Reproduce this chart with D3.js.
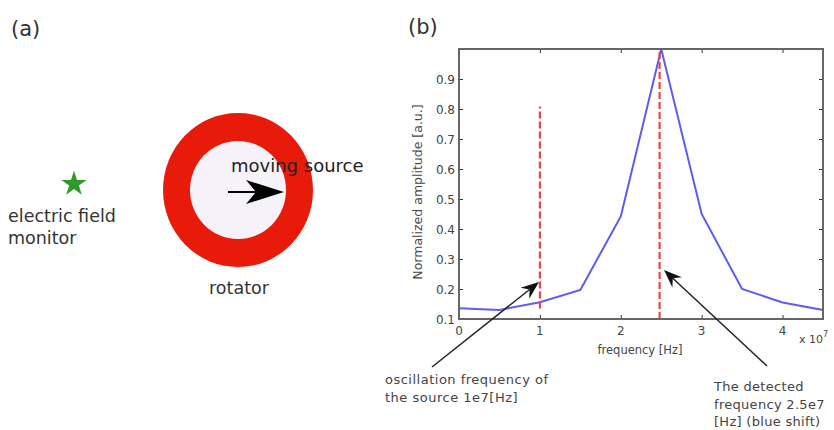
<!DOCTYPE html>
<html>
<head>
<meta charset="utf-8">
<script src="https://cdn.jsdelivr.net/npm/d3@7"></script>
<style>
  body { margin: 0; background: #fff; }
  svg text { font-family: "DejaVu Sans", Verdana, sans-serif; }
  .tick-label, .axis-label, .note { fill: #444; }
</style>
</head>
<body>
<svg id="fig" width="834" height="430"></svg>
<script>
// spectrum data (frequency in Hz, normalized amplitude)
const freqs = [0, 0.5e7, 1e7, 1.5e7, 2e7, 2.5e7, 3e7, 3.5e7, 4e7, 4.5e7];
const amps = [0.136, 0.13, 0.156, 0.197, 0.442, 1.0, 0.45, 0.2, 0.155, 0.13];

const xTicks = [0, 1e7, 2e7, 3e7, 4e7];
const xTickLabels = ['0', '1', '2', '3', '4'];
const yTicks = [0.1, 0.2, 0.3, 0.4, 0.5, 0.6, 0.7, 0.8, 0.9];

// red dashed markers: [frequency, bottom amp, top amp]
const markers = [[1e7, 0.135, 0.808], [2.48e7, 0.1, 0.995]];

const svg = d3.select('#fig');

// ---------- panel (a) : schematic ----------
svg.append('text').attr('x', 11).attr('y', 36)
  .attr('font-size', 21).attr('fill', '#333').text('(a)');

// star = electric field monitor
svg.append('path')
  .attr('d', d3.symbol().type(d3.symbolStar).size(200)())
  .attr('transform', 'translate(74,184)')
  .attr('fill', '#2f9a2a');

svg.append('text').attr('x', 8).attr('y', 222)
  .attr('font-size', 17.5).attr('fill', '#333').text('electric field');
svg.append('text').attr('x', 8).attr('y', 244)
  .attr('font-size', 17.5).attr('fill', '#333').text('monitor');

// rotator ring
const ring = svg.append('g').attr('transform', 'translate(238,190)');
ring.append('ellipse').attr('rx', 75).attr('ry', 77).attr('fill', '#e81a0a');
ring.append('ellipse').attr('rx', 48).attr('ry', 49).attr('fill', '#f6f2fa');

svg.append('text').attr('x', 231).attr('y', 172)
  .attr('font-size', 18).attr('fill', '#222').text('moving source');

// source arrow
svg.append('line').attr('x1', 228).attr('y1', 192).attr('x2', 262).attr('y2', 192)
  .attr('stroke', '#000').attr('stroke-width', 2);
svg.append('path').attr('d', 'M284,192 L246,180 L256,192 L246,204 Z').attr('fill', '#000');

svg.append('text').attr('x', 239).attr('y', 294).attr('text-anchor', 'middle')
  .attr('font-size', 17.5).attr('fill', '#333').text('rotator');

// ---------- panel (b) : spectrum ----------
svg.append('text').attr('x', 408).attr('y', 34)
  .attr('font-size', 21).attr('fill', '#333').text('(b)');

const margin = { left: 459, top: 49, right: 823, bottom: 319 };

const x = d3.scaleLinear().domain([0, 4.5e7]).range([margin.left, margin.right]);
const y = d3.scaleLinear().domain([0.1, 1.0]).range([margin.bottom, margin.top]);

const g = svg.append('g');

// inward ticks on all four sides (matlab style)
const tickLen = 4;
const tickColor = '#333';
g.append('g').attr('transform', `translate(0,${margin.bottom})`)
  .call(d3.axisTop(x).tickValues(xTicks).tickSize(tickLen).tickFormat(''))
  .call(a => a.select('.domain').remove())
  .selectAll('line').attr('stroke', tickColor);
g.append('g').attr('transform', `translate(0,${margin.top})`)
  .call(d3.axisBottom(x).tickValues(xTicks).tickSize(tickLen).tickFormat(''))
  .call(a => a.select('.domain').remove())
  .selectAll('line').attr('stroke', tickColor);
g.append('g').attr('transform', `translate(${margin.left},0)`)
  .call(d3.axisRight(y).tickValues(yTicks).tickSize(tickLen).tickFormat(''))
  .call(a => a.select('.domain').remove())
  .selectAll('line').attr('stroke', tickColor);
g.append('g').attr('transform', `translate(${margin.right},0)`)
  .call(d3.axisLeft(y).tickValues(yTicks).tickSize(tickLen).tickFormat(''))
  .call(a => a.select('.domain').remove())
  .selectAll('line').attr('stroke', tickColor);

// tick labels
g.selectAll('.xl').data(xTicks).enter().append('text')
  .attr('class', 'tick-label')
  .attr('x', d => x(d)).attr('y', margin.bottom + 16)
  .attr('text-anchor', 'middle').attr('font-size', 12)
  .text((d, i) => xTickLabels[i]);
g.selectAll('.yl').data(yTicks).enter().append('text')
  .attr('class', 'tick-label')
  .attr('x', margin.left - 4).attr('y', d => y(d) + 4.5)
  .attr('text-anchor', 'end').attr('font-size', 12)
  .text(d => d3.format('.1f')(d));

// exponent
const ex = g.append('text').attr('class', 'tick-label')
  .attr('x', 799).attr('y', 343).attr('font-size', 11);
ex.append('tspan').text('x 10');
ex.append('tspan').attr('dy', -6).attr('font-size', 8).text('7');

// axis labels
g.append('text').attr('class', 'axis-label')
  .attr('x', 640).attr('y', 354).attr('text-anchor', 'middle')
  .attr('font-size', 11.5).text('frequency [Hz]');
g.append('text').attr('class', 'axis-label')
  .attr('transform', `translate(422,${(margin.top + margin.bottom) / 2 + 8}) rotate(-90)`)
  .attr('text-anchor', 'middle').attr('font-size', 12.5)
  .text('Normalized amplitude [a.u.]');

// blue spectrum line
const pts = freqs.map((f, i) => [f, amps[i]]);
g.append('path').datum(pts)
  .attr('d', d3.line().x(d => x(d[0])).y(d => y(d[1])))
  .attr('fill', 'none').attr('stroke', '#5c5cf0').attr('stroke-width', 2);

// red dashed markers
g.selectAll('.marker').data(markers).enter().append('line')
  .attr('x1', d => x(d[0])).attr('x2', d => x(d[0]))
  .attr('y1', d => y(d[1])).attr('y2', d => y(d[2]))
  .attr('stroke', '#e84545').attr('stroke-width', 2.2)
  .attr('stroke-dasharray', '7,3');

// frame
g.append('rect')
  .attr('x', margin.left).attr('y', margin.top)
  .attr('width', margin.right - margin.left).attr('height', margin.bottom - margin.top)
  .attr('fill', 'none').attr('stroke', '#666').attr('stroke-width', 2);

// annotation arrows
function annArrow(x0, y0, x1, y1) {
  const ang = Math.atan2(y1 - y0, x1 - x0);
  const L = 18, W = 7, back = 12;
  const ux = Math.cos(ang), uy = Math.sin(ang);
  const bx = x1 - ux * L, by = y1 - uy * L;
  const nx = -uy, ny = ux;
  const mx = x1 - ux * back, my = y1 - uy * back;
  svg.append('line').attr('x1', x0).attr('y1', y0).attr('x2', mx).attr('y2', my)
    .attr('stroke', '#222').attr('stroke-width', 1.5);
  svg.append('path')
    .attr('d', `M${x1},${y1} L${bx + nx * W},${by + ny * W} L${mx},${my} L${bx - nx * W},${by - ny * W} Z`)
    .attr('fill', '#111');
}
annArrow(432, 367, 539, 282);
annArrow(767, 366, 664, 270);

// annotation notes
const note1 = ['oscillation frequency of', 'the source 1e7[Hz]'];
const note2 = ['The detected', 'frequency 2.5e7', '[Hz] (blue shift)'];
note1.forEach((t, i) => svg.append('text').attr('class', 'note')
  .attr('x', 385).attr('y', 384 + i * 18).attr('font-size', 13)
  .attr('letter-spacing', 0.5).text(t));
note2.forEach((t, i) => svg.append('text').attr('class', 'note')
  .attr('x', 714).attr('y', 391 + i * 17.5).attr('font-size', 13)
  .attr('letter-spacing', 0.3).text(t));
</script>
</body>
</html>
